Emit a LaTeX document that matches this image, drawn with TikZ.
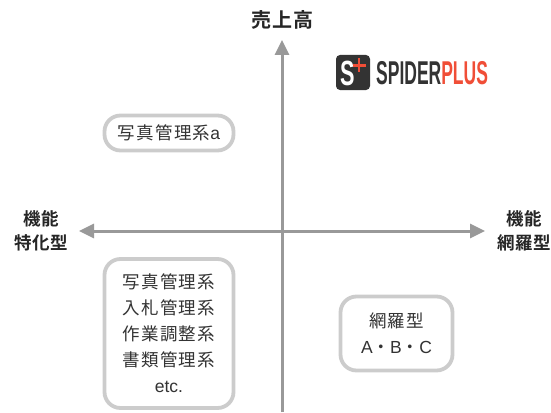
\documentclass[tikz,border=0pt]{standalone}
\usepackage{fontspec}
\setmainfont{Liberation Sans}
\newfontfamily\jp[LetterSpace=7]{Noto Sans CJK JP}
\newfontfamily\jpb[LetterSpace=3]{Noto Sans CJK JP Bold}
\newfontfamily\jpt[LetterSpace=5]{Noto Sans CJK JP Bold}
\usetikzlibrary{arrows.meta}
\definecolor{axisc}{HTML}{999999}
\definecolor{boxc}{HTML}{CCCCCC}
\definecolor{txtc}{HTML}{333333}
\definecolor{logoc}{HTML}{333333}
\definecolor{plusc}{HTML}{F04E37}
\tikzset{
  axisline/.style={draw=axisc,line width=3pt,-{Triangle[length=15pt,width=14pt]}},
  pillbox/.style={draw=boxc,line width=3.8pt,rounded corners=16pt,fill=white,inner sep=0pt,text=txtc,align=center},
  poslabel/.style={text=black!85,align=center,inner sep=0pt,font=\fontsize{17.5}{24}\selectfont\jpb},
  boxtext/.style={font=\fontsize{17.5}{26}\selectfont\jp}
}
\begin{document}
\begin{tikzpicture}[x=1pt,y=-1pt]
\useasboundingbox (0,0) rectangle (551,412);
\fill[white] (0,0) rectangle (551,412);
\coordinate (vs) at (282,412);
\coordinate (vt) at (282,40);
\coordinate (hl) at (79,231);
\coordinate (hr) at (485,231);
\coordinate (hm) at (282,231);
\draw[axisline] (vs) -- (vt);
\draw[axisline] (hm) -- (hl);
\draw[axisline] (hm) -- (hr);
\node[poslabel,font=\fontsize{20}{20}\selectfont\jpt] (top) at (282,20) {売上高};
\node[poslabel] (left) at (41,231) {機能\\特化型};
\node[poslabel] (right) at (524,231) {機能\\網羅型};
\node[pillbox,boxtext,minimum width=129pt,minimum height=35pt] (a) at (169,133) {写真管理系{\fontspec{Liberation Sans}a}};
\node[pillbox,boxtext,minimum width=129pt,minimum height=149pt] (b) at (169,333.5) {写真管理系\\入札管理系\\作業調整系\\書類管理系\\{\fontspec{Liberation Sans}etc.}};
\node[pillbox,boxtext,minimum width=112pt,minimum height=74pt] (c) at (396.5,333.5) {網羅型\\{\fontspec{Liberation Sans}A}・{\fontspec{Liberation Sans}B}・{\fontspec{Liberation Sans}C}};
% logo
\fill[logoc,rounded corners=4pt] (336,55) rectangle (370,90);
\node[text=white,inner sep=0pt,font=\fontsize{35}{35}\selectfont\bfseries] (logoS) at (348,73.5) {\scalebox{0.62}[1]{S}};
\draw[plusc,line width=2.8pt] (359,58.5) -- (359,72);
\draw[plusc,line width=2.8pt] (352.5,65.5) -- (366,65.5);
\node[anchor=west,inner sep=0pt,font=\fontsize{33}{33}\selectfont\bfseries] (logoT) at (376,73) {\scalebox{0.53}[1]{\textcolor{logoc}{SPIDER}\textcolor{plusc}{PLUS}}};
\end{tikzpicture}
\end{document}
